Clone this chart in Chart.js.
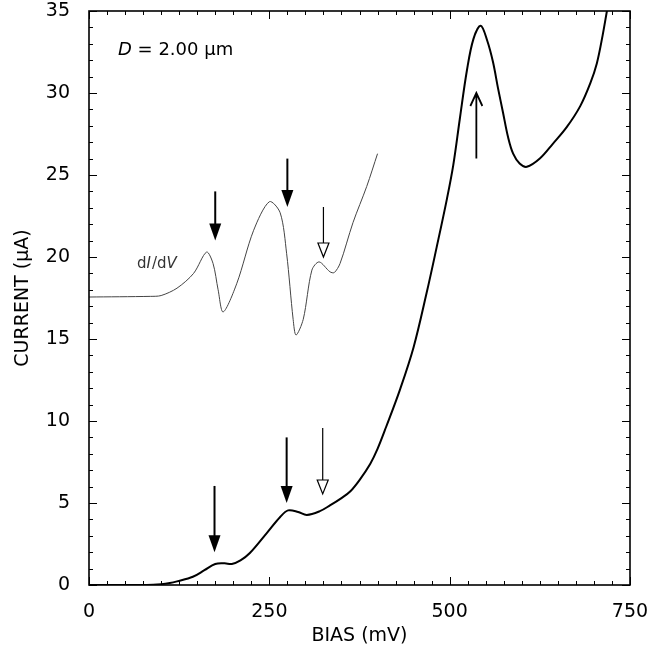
<!DOCTYPE html>
<html>
<head>
<meta charset="utf-8">
<script src="https://cdn.jsdelivr.net/npm/chart.js@4"></script>
<style>
  body { margin: 0; background: #fff; }
  canvas { display: block; }
</style>
</head>
<body>
<canvas id="ivChart" width="647" height="652"></canvas>
<script>
// I(V) curve, bias in mV, current in uA
const biasI = [0, 80, 100, 112, 122, 144, 160, 175, 188, 198, 210, 223, 247, 265, 276, 290, 302, 320, 334, 350, 362, 375, 390, 400, 412, 431, 450, 468, 482, 496, 505, 514, 524, 533, 543, 552, 560, 567, 574, 581, 588, 597, 607, 625, 643, 662, 681, 695, 704, 712, 718, 728];
const current = [0, 0, 0.05, 0.12, 0.22, 0.5, 0.9, 1.28, 1.32, 1.28, 1.5, 1.95, 3.2, 4.15, 4.55, 4.45, 4.27, 4.5, 4.85, 5.3, 5.7, 6.4, 7.4, 8.3, 9.65, 11.9, 14.5, 17.8, 20.6, 23.5, 25.6, 28.4, 31.4, 33.3, 34.1, 33.2, 31.9, 30.3, 28.8, 27.3, 26.3, 25.7, 25.5, 26.0, 26.9, 27.9, 29.2, 30.6, 31.8, 33.5, 35.0, 37.5];

// dI/dV trace (offset, arbitrary units drawn on the current axis)
const biasD = [0, 85, 100, 122, 145, 163, 172, 179, 186, 205, 228, 250, 265, 274, 283, 287, 297, 309, 319, 334, 340, 348, 366, 385, 400];
const didv = [17.56, 17.6, 17.65, 18.1, 19.0, 20.3, 19.6, 18.0, 16.65, 18.4, 21.6, 23.37, 22.7, 20.2, 16.2, 15.24, 16.2, 19.2, 19.7, 19.1, 19.05, 19.6, 22.1, 24.3, 26.3];

// arrows marking features (bias, from, to)
const arrowX = [175, 275, 325, 174, 274, 324, 537];
const arrowFrom = [24.0, 26.0, 23.05, 6.04, 9.0, 9.57, 26.0];
const arrowTo = [21.0, 23.05, 20.0, 2.0, 5.0, 5.55, 30.0];
const arrowKind = ['filled', 'filled', 'open', 'filled', 'filled', 'open', 'line'];

const xTicks = [0, 250, 500, 750];
const yTicks = [0, 5, 10, 15, 20, 25, 30, 35];

const FONT = '"DejaVu Sans", Helvetica, Arial, sans-serif';

function toPoints(xs, ys) {
    return xs.map((x, i) => ({ x: x, y: ys[i] }));
}

const framePlugin = {
    id: 'frame',
    afterDatasetsDraw(chart) {
        const ctx = chart.ctx;
        const a = chart.chartArea;
        const xs = chart.scales.x, ys = chart.scales.y;
        ctx.save();
        ctx.strokeStyle = '#000';
        ctx.lineWidth = 1.6;
        ctx.strokeRect(a.left, a.top, a.right - a.left, a.bottom - a.top);

        // inward ticks on all four sides
        ctx.lineWidth = 1;
        ctx.beginPath();
        for (let v = 0; v <= 750; v += 25) {
            const px = Math.round(xs.getPixelForValue(v)) + 0.5;
            const len = v % 250 === 0 ? 8 : 4;
            ctx.moveTo(px, a.bottom); ctx.lineTo(px, a.bottom - len);
            ctx.moveTo(px, a.top); ctx.lineTo(px, a.top + len);
        }
        for (let v = 0; v <= 35; v += 1) {
            const py = Math.round(ys.getPixelForValue(v)) + 0.5;
            const len = v % 5 === 0 ? 8 : 4;
            ctx.moveTo(a.left, py); ctx.lineTo(a.left + len, py);
            ctx.moveTo(a.right, py); ctx.lineTo(a.right - len, py);
        }
        ctx.stroke();

        // arrows
        arrowX.forEach((bx, i) => {
            const px = xs.getPixelForValue(bx);
            const y0 = ys.getPixelForValue(arrowFrom[i]);
            const y1 = ys.getPixelForValue(arrowTo[i]);
            const kind = arrowKind[i];
            ctx.strokeStyle = '#000';
            ctx.fillStyle = '#000';
            if (kind === 'filled') {
                const hh = 17, hw = 6;
                ctx.lineWidth = 2;
                ctx.beginPath();
                ctx.moveTo(px, y0); ctx.lineTo(px, y1 - hh + 2);
                ctx.stroke();
                ctx.beginPath();
                ctx.moveTo(px - hw, y1 - hh); ctx.lineTo(px + hw, y1 - hh); ctx.lineTo(px, y1);
                ctx.closePath();
                ctx.fill();
            } else if (kind === 'open') {
                const hh = 14, hw = 5.5;
                ctx.lineWidth = 1.2;
                ctx.beginPath();
                ctx.moveTo(px, y0); ctx.lineTo(px, y1 - hh);
                ctx.stroke();
                ctx.beginPath();
                ctx.moveTo(px - hw, y1 - hh); ctx.lineTo(px + hw, y1 - hh); ctx.lineTo(px, y1);
                ctx.closePath();
                ctx.fillStyle = '#fff';
                ctx.fill();
                ctx.stroke();
            } else {
                ctx.lineWidth = 1.8;
                ctx.beginPath();
                ctx.moveTo(px, y0); ctx.lineTo(px, y1);
                ctx.moveTo(px - 6, y1 + 13); ctx.lineTo(px, y1); ctx.lineTo(px + 6, y1 + 13);
                ctx.stroke();
            }
        });

        // labels
        ctx.fillStyle = '#000';
        ctx.textBaseline = 'alphabetic';
        ctx.textAlign = 'left';
        let tx = a.left + 29, ty = a.top + 44;
        ctx.font = 'italic 18px ' + FONT;
        ctx.fillText('D', tx, ty);
        tx += ctx.measureText('D').width;
        ctx.font = '18px ' + FONT;
        ctx.fillText(' = 2.00 \u03bcm', tx, ty);

        ctx.fillStyle = '#333';
        tx = a.left + 48; ty = a.top + 257;
        const parts = [['d', false], ['I', true], ['/d', false], ['V', true]];
        parts.forEach(p => {
            ctx.font = (p[1] ? 'italic ' : '') + '15px ' + FONT;
            ctx.fillText(p[0], tx, ty);
            tx += ctx.measureText(p[0]).width + (p[1] ? 1 : 0);
        });
        ctx.restore();
    }
};

new Chart(document.getElementById('ivChart'), {
    type: 'scatter',
    data: {
        datasets: [{
            label: 'I(V)',
            data: toPoints(biasI, current),
            showLine: true,
            borderColor: '#000',
            borderWidth: 2,
            pointRadius: 0,
            tension: 0.35
        }, {
            label: 'dI/dV',
            data: toPoints(biasD, didv),
            showLine: true,
            borderColor: '#444',
            borderWidth: 1,
            pointRadius: 0,
            tension: 0.3
        }]
    },
    options: {
        responsive: false,
        animation: false,
        layout: { padding: { top: 11, right: 17, left: 0, bottom: 0 } },
        plugins: {
            legend: { display: false },
            tooltip: { enabled: false }
        },
        scales: {
            x: {
                type: 'linear',
                min: 0,
                max: 750,
                afterFit(scale) {
                    scale.height = 67;
                    scale.paddingLeft = 0;
                    scale.paddingRight = 0;
                },
                afterBuildTicks(scale) { scale.ticks = xTicks.map(v => ({ value: v })); },
                grid: { display: false },
                border: { display: false },
                ticks: { color: '#000', padding: 8, maxRotation: 0, font: { family: FONT, size: 19 } },
                title: {
                    display: true,
                    text: 'BIAS (mV)',
                    color: '#000',
                    font: { family: FONT, size: 19 },
                    padding: { top: 0, bottom: 5 }
                }
            },
            y: {
                type: 'linear',
                min: 0,
                max: 35,
                afterFit(scale) {
                    scale.width = 89;
                    scale.paddingTop = 0;
                    scale.paddingBottom = 0;
                },
                afterBuildTicks(scale) { scale.ticks = yTicks.map(v => ({ value: v })); },
                grid: { display: false },
                border: { display: false },
                ticks: { color: '#000', padding: 11, font: { family: FONT, size: 19 } },
                title: {
                    display: true,
                    text: 'CURRENT (\u03bcA)',
                    color: '#000',
                    font: { family: FONT, size: 19 },
                    padding: { top: 12, bottom: 0 }
                }
            }
        }
    },
    plugins: [framePlugin]
});
</script>
</body>
</html>
